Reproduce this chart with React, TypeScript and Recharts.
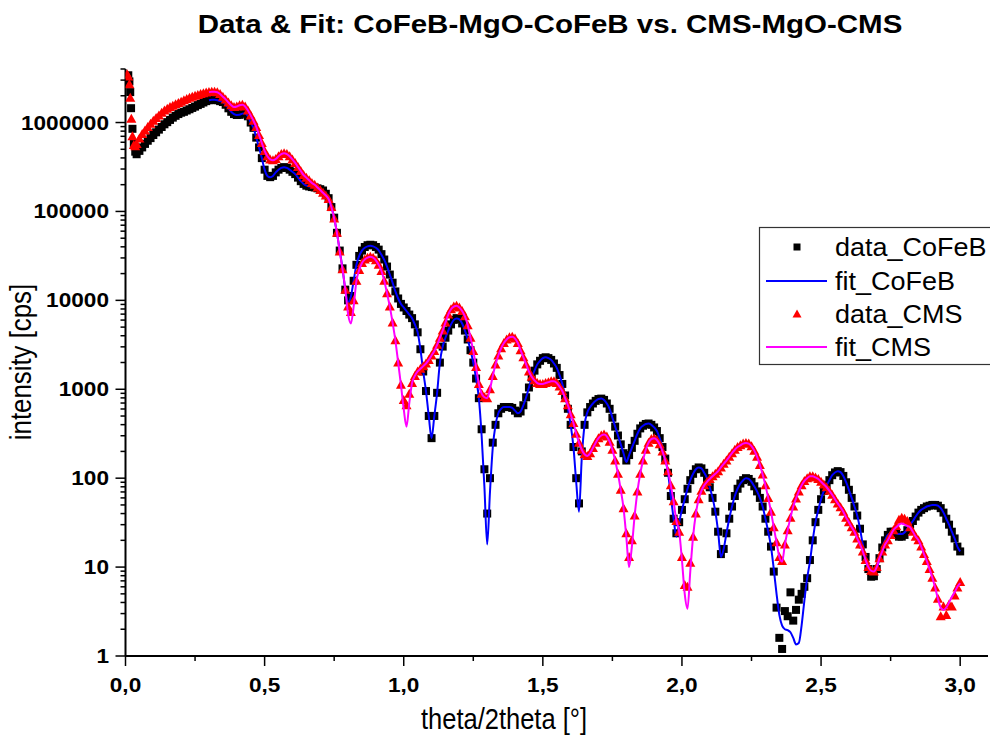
import React from 'react';
import { ComposedChart, XAxis, YAxis, Scatter, Line, Legend } from 'recharts';

const FONT = '"Liberation Sans", Arial, Helvetica, sans-serif';

// ---------- data (theta in degrees, intensity in cps) ----------
const gridStart = 0.04;
const gridStep = 0.01;
const fitStart = 0.3;

const cofebHeadTheta = [0.01, 0.014, 0.017, 0.02, 0.025, 0.03, 0.035];
const cofebHeadData = [3400000, 2900000, 2200000, 1450000, 850000, 580000, 470000];
const cmsHeadTheta = [0.006, 0.01, 0.014, 0.017, 0.021, 0.025, 0.03, 0.035];
const cmsHeadData = [3500000, 3300000, 2700000, 1900000, 1100000, 700000, 560000, 540000];

// measured points on the 0.04 ... 3.00 grid
const cofebData = [
  440000, 480000, 525000, 575000, 624000, 668000, 724000, 776000, 832000, 891000,
  955000, 1010000, 1070000, 1135000, 1190000, 1245000, 1290000, 1320000, 1365000, 1410000,
  1460000, 1510000, 1570000, 1620000, 1680000, 1740000, 1780000, 1800000, 1800000, 1780000,
  1740000, 1700000, 1585000, 1445000, 1320000, 1245000, 1215000, 1220000, 1260000, 1270000,
  1175000, 1000000, 871000, 676000, 525000, 398000, 295000, 251000, 243000, 251000,
  275000, 295000, 309000, 315000, 309000, 295000, 279000, 263000, 240000, 219000,
  204000, 195000, 191000, 188000, 186000, 182000, 178000, 172000, 158000, 141000,
  112000, 85100, 57500, 36300, 22900, 13200, 10000, 11200, 16600, 25100,
  31600, 36300, 39800, 41700, 42200, 41700, 39800, 37200, 33100, 28800,
  24000, 19500, 15800, 12600, 10500, 9120, 8320, 7590, 6920, 6310,
  5370, 4370, 2820, 1585, 955, 501, 282, 501, 912, 1995,
  3020, 3800, 4570, 5370, 6030, 6310, 6170, 5500, 4570, 3630,
  2750, 1995, 1320, 794, 355, 126, 40, 100, 251, 398,
  537, 603, 631, 631, 631, 617, 575, 537, 562, 661,
  813, 1047, 1350, 1620, 1905, 2090, 2240, 2290, 2240, 2140,
  1950, 1740, 1445, 1148, 851, 603, 398, 224, 100, 52,
  200, 398, 550, 631, 692, 741, 776, 785, 759, 692,
  603, 479, 380, 302, 240, 191, 158, 182, 219, 263,
  316, 363, 389, 407, 412, 398, 372, 339, 282, 224,
  166, 115, 63, 35, 24, 32, 44, 58, 76, 95,
  112, 126, 132, 129, 115, 100, 79, 60, 42, 25,
  14, 16, 24, 35, 48, 63, 76, 87, 95, 100,
  98, 91, 81, 71, 60, 48, 35, 25, 17, 8.9,
  3.5, 1.6, 1.2, 3.2, 2.8, 5.2, 2.5, 3.3, 4.3, 5.0,
  6.0, 7.5, 12, 20, 32, 44, 58, 72, 83, 95,
  108, 116, 120, 117, 106, 90, 74, 60, 48, 38,
  27, 18, 13, 9.5, 7.8, 7.9, 9.5, 12.6, 16.6, 20,
  23, 25, 25, 24, 22, 22, 23, 26, 30, 33,
  37, 41, 44, 46, 48, 49, 50, 50, 49, 46,
  41, 35, 30, 25, 21, 17, 15,
];

const cmsData = [
  575000, 661000, 741000, 813000, 891000, 966000, 1047000, 1122000, 1202000, 1288000,
  1365000, 1430000, 1496000, 1549000, 1603000, 1660000, 1718000, 1778000, 1841000, 1905000,
  1950000, 1995000, 2042000, 2089000, 2138000, 2173000, 2198000, 2213000, 2213000, 2188000,
  2089000, 1950000, 1820000, 1679000, 1567000, 1496000, 1514000, 1567000, 1585000, 1514000,
  1365000, 1202000, 1047000, 891000, 724000, 589000, 479000, 417000, 385000, 376000,
  389000, 417000, 442000, 452000, 442000, 417000, 385000, 351000, 316000, 285000,
  257000, 240000, 224000, 209000, 200000, 186000, 174000, 162000, 151000, 138000,
  112000, 83200, 57500, 35500, 22400, 13200, 8510, 7410, 10000, 16600,
  21900, 26300, 28800, 30200, 30900, 30200, 28200, 25100, 21400, 16600,
  12000, 8510, 5620, 3550, 1995, 1122, 759, 661, 891, 1175,
  1413, 1585, 1698, 1820, 1950, 2138, 2399, 2692, 3162, 3802,
  4571, 5623, 6918, 7943, 8511, 8710, 8318, 7586, 6607, 5248,
  3802, 2692, 1778, 1148, 891, 813, 794, 1000, 1413, 1905,
  2399, 2884, 3311, 3631, 3846, 3890, 3715, 3311, 2754, 2291,
  1905, 1585, 1380, 1259, 1175, 1148, 1148, 1175, 1202, 1230,
  1230, 1175, 1072, 955, 794, 661, 525, 417, 316, 251,
  209, 186, 178, 191, 219, 251, 282, 302, 309, 295,
  257, 209, 158, 112, 74, 46, 24, 13, 20, 38,
  71, 112, 158, 209, 251, 275, 282, 269, 240, 200,
  158, 120, 83, 55, 33, 25, 13, 6.3, 6.0, 11.2,
  22, 40, 58, 72, 83, 91, 98, 105, 112, 120,
  132, 145, 158, 174, 191, 209, 224, 234, 245, 248,
  245, 229, 204, 174, 141, 110, 83, 60, 42, 28,
  19, 13, 11.7, 18, 26, 36, 48, 59, 71, 83,
  93, 100, 105, 105, 102, 98, 91, 85, 79, 72,
  65, 58, 52, 47, 42, 36, 32, 28, 25, 21,
  18, 15, 12, 10, 9.1, 8.9, 10, 12.6, 15, 18,
  20, 23, 26, 29, 34, 36, 35, 33, 28, 25,
  22, 20, 17, 14, 11.7, 9.5, 7.6, 5.9, 4.4, 2.8,
  3.6, 2.9, 3.8, 3.6, 4.8, 5.9, 6.8,
];

// fitted curves on the 0.30 ... 3.00 grid
const cofebFit = [
  1780000, 1800000, 1800000, 1780000, 1740000, 1700000, 1585000, 1445000, 1320000, 1245000,
  1215000, 1220000, 1260000, 1270000, 1175000, 1000000, 871000, 676000, 525000, 398000,
  295000, 251000, 243000, 251000, 275000, 295000, 309000, 315000, 309000, 295000,
  279000, 263000, 240000, 219000, 204000, 195000, 191000, 188000, 186000, 182000,
  178000, 172000, 158000, 141000, 112000, 85100, 57500, 36300, 22900, 13200,
  9500, 11000, 16600, 25100, 31600, 36300, 39000, 40500, 41000, 40500,
  39000, 36500, 32500, 28500, 24000, 19500, 15800, 12600, 10500, 9120,
  8320, 7590, 6920, 6310, 5370, 4370, 2820, 1585, 955, 501,
  282, 501, 912, 1995, 3020, 3800, 4570, 5370, 6030, 6250,
  6100, 5500, 4570, 3630, 2750, 1995, 1320, 794, 300, 80,
  18, 70, 220, 398, 537, 603, 631, 631, 631, 617,
  575, 537, 562, 661, 813, 1047, 1350, 1620, 1905, 2090,
  2240, 2290, 2240, 2140, 1950, 1740, 1445, 1148, 851, 603,
  398, 224, 90, 42, 170, 398, 550, 631, 692, 741,
  776, 785, 759, 692, 603, 479, 380, 302, 240, 191,
  152, 182, 219, 263, 316, 363, 389, 407, 412, 398,
  372, 339, 282, 224, 166, 115, 63, 35, 22, 32,
  44, 58, 76, 95, 112, 126, 132, 129, 115, 100,
  79, 60, 42, 25, 13, 16, 24, 35, 48, 63,
  76, 87, 95, 100, 98, 91, 81, 71, 60, 48,
  35, 25, 17, 9.5, 5.0, 2.9, 2.2, 2.0, 1.95, 1.85,
  1.6, 1.35, 1.4, 2.2, 4.2, 7.5, 11.5, 20, 32, 44,
  58, 72, 83, 95, 108, 116, 120, 117, 106, 90,
  74, 60, 48, 38, 27, 18, 13, 9.0, 8.6, 8.8,
  9.5, 12.6, 16.6, 20, 23, 24, 24.5, 24, 23.5, 23.5,
  24.5, 27, 30, 33, 37, 41, 44, 46, 48, 49,
  50, 50, 49, 46, 41, 35, 30, 25, 21, 17,
  15,
];

const cmsFit = [
  2198000, 2213000, 2213000, 2188000, 2089000, 1950000, 1820000, 1679000, 1567000, 1496000,
  1514000, 1567000, 1585000, 1514000, 1365000, 1202000, 1047000, 891000, 724000, 589000,
  479000, 417000, 385000, 376000, 389000, 417000, 442000, 452000, 442000, 417000,
  385000, 351000, 316000, 285000, 257000, 240000, 224000, 209000, 200000, 186000,
  174000, 162000, 151000, 138000, 112000, 83200, 57500, 35500, 22400, 13200,
  7000, 5500, 8500, 16600, 21900, 26300, 28800, 30200, 30900, 30200,
  28200, 25100, 21400, 16600, 12000, 8510, 5620, 3550, 1995, 1122,
  600, 380, 700, 1175, 1413, 1585, 1698, 1820, 1950, 2138,
  2399, 2692, 3162, 3802, 4571, 5623, 6918, 7943, 8511, 8710,
  8318, 7586, 6607, 5248, 3802, 2692, 1778, 1148, 891, 813,
  794, 1000, 1413, 1905, 2399, 2884, 3311, 3631, 3846, 3890,
  3715, 3311, 2754, 2291, 1905, 1585, 1380, 1259, 1175, 1148,
  1148, 1175, 1202, 1230, 1230, 1175, 1072, 955, 794, 661,
  525, 417, 316, 251, 209, 186, 178, 191, 219, 251,
  282, 302, 309, 295, 257, 209, 158, 112, 74, 46,
  22, 10, 17, 38, 71, 112, 158, 209, 251, 275,
  282, 269, 240, 200, 158, 120, 83, 55, 33, 25,
  12, 5.0, 3.4, 9, 22, 40, 58, 72, 83, 91,
  98, 105, 112, 120, 132, 145, 158, 174, 191, 209,
  224, 234, 245, 248, 245, 229, 204, 174, 141, 110,
  83, 60, 42, 28, 19, 13, 11.5, 18, 26, 36,
  48, 59, 71, 83, 93, 100, 105, 105, 102, 98,
  91, 85, 79, 72, 65, 58, 52, 47, 42, 36,
  32, 28, 25, 21, 18, 15, 12, 10, 9.1, 8.9,
  10, 12.6, 15, 18, 20, 23, 26, 28, 30, 31,
  30, 29, 28, 25, 22, 20, 17, 14, 11.7, 9.5,
  7.6, 5.9, 4.4, 3.5, 3.3, 3.5, 4.0, 4.6, 5.2, 6.0,
  6.6,
];

// ---------- axes ----------
const xMajorTicks = [0, 0.5, 1, 1.5, 2, 2.5, 3];
const xMinorTicks = [0.25, 0.75, 1.25, 1.75, 2.25, 2.75];
const yMajorTicks = [1, 10, 100, 1000, 10000, 100000, 1000000];
const yMinorFactors = [2, 3, 4, 5, 6, 7, 8, 9];
const yMax = 4000000;

const xTicks = [...xMajorTicks, ...xMinorTicks].sort((a, b) => a - b);
const yTicks: number[] = [];
yMajorTicks.forEach((m) => {
  yTicks.push(m);
  yMinorFactors.forEach((f) => {
    if (m * f <= yMax) yTicks.push(m * f);
  });
});

const legendItems = [
  { label: 'data_CoFeB', kind: 'square', color: '#000000' },
  { label: 'fit_CoFeB', kind: 'line', color: '#0000FF' },
  { label: 'data_CMS', kind: 'triangle', color: '#FF0000' },
  { label: 'fit_CMS', kind: 'line', color: '#FF00FF' },
];

// ---------- build series ----------
const gridTheta = (i: number, start: number) => Math.round((start + i * gridStep) * 1000) / 1000;

const cofebPoints = [
  ...cofebHeadTheta.map((x, i) => ({ x, y: cofebHeadData[i] })),
  ...cofebData.map((y, i) => ({ x: gridTheta(i, gridStart), y })),
];
const cmsPoints = [
  ...cmsHeadTheta.map((x, i) => ({ x, y: cmsHeadData[i] })),
  ...cmsData.map((y, i) => ({ x: gridTheta(i, gridStart), y })),
];
const cofebFitPoints = cofebFit.map((y, i) => ({ x: gridTheta(i, fitStart), y }));
const cmsFitPoints = cmsFit.map((y, i) => ({ x: gridTheta(i, fitStart), y }));

// ---------- renderers ----------
const isMajorY = (v: number) => yMajorTicks.includes(v);
const isMajorX = (v: number) => xMajorTicks.some((m) => Math.abs(m - v) < 1e-9);

const YTick = (props: any) => {
  const { x, y, payload } = props;
  const v = payload.value;
  const major = isMajorY(v);
  return (
    <g>
      <line x1={x - (major ? 10 : 5)} x2={x} y1={y} y2={y} stroke="#000" strokeWidth={1.5} />
      {major && (
        <text
          transform={`translate(${x - 16.5},${y}) scale(1.16,1)`}
          textAnchor="end"
          dy="0.36em"
          fontFamily={FONT}
          fontWeight="bold"
          fontSize={19.5}
          fill="#000"
        >
          {String(v)}
        </text>
      )}
    </g>
  );
};

const XTick = (props: any) => {
  const { x, y, payload } = props;
  const v = payload.value;
  const major = isMajorX(v);
  return (
    <g>
      <line x1={x} x2={x} y1={y} y2={y + (major ? 10 : 5)} stroke="#000" strokeWidth={1.5} />
      {major && (
        <text
          transform={`translate(${x},${y + 35.5}) scale(1.16,1)`}
          textAnchor="middle"
          fontFamily={FONT}
          fontWeight="bold"
          fontSize={19.5}
          fill="#000"
        >
          {v.toFixed(1).replace('.', ',')}
        </text>
      )}
    </g>
  );
};

const XTitle = () => (
  <text
    transform="translate(504,729) scale(0.88,1)"
    textAnchor="middle"
    fontFamily={FONT}
    fontSize={29}
    fill="#000"
  >
    theta/2theta [°]
  </text>
);

const YTitle = () => (
  <text
    transform="translate(31,362) rotate(-90) scale(0.89,1)"
    textAnchor="middle"
    fontFamily={FONT}
    fontSize={29}
    fill="#000"
  >
    intensity [cps]
  </text>
);

const SquareShape = (p: any) =>
  p.cx == null ? <g /> : <rect x={p.cx - 4} y={p.cy - 4} width={8} height={8} fill="#000000" />;
const TriangleShape = (p: any) =>
  p.cx == null ? (
    <g />
  ) : (
    <path d={`M${p.cx},${p.cy - 5}L${p.cx + 5},${p.cy + 4}L${p.cx - 5},${p.cy + 4}Z`} fill="#FF0000" />
  );

const LegendBox = () => {
  const rows = [20, 54, 87, 120];
  return (
    <svg width={231} height={140} style={{ display: 'block', overflow: 'visible' }}>
      <rect x={0.5} y={0.5} width={260} height={137} fill="#fff" stroke="#333" strokeWidth={1.2} />
      {legendItems.map((it, i) => {
        const cy = rows[i];
        let icon: React.ReactNode = null;
        if (it.kind === 'line') icon = <line x1={7} x2={68} y1={cy} y2={cy} stroke={it.color} strokeWidth={2} />;
        else if (it.kind === 'square') icon = <rect x={34.5} y={cy - 3.5} width={7} height={7} fill={it.color} />;
        else icon = <path d={`M38,${cy - 4.5}L42.5,${cy + 3.5}L33.5,${cy + 3.5}Z`} fill={it.color} />;
        return (
          <g key={it.label}>
            {icon}
            <text
              transform={`translate(76,${cy + 9}) scale(1.08,1)`}
              fontFamily={FONT}
              fontSize={25}
              fill="#000"
            >
              {it.label}
            </text>
          </g>
        );
      })}
    </svg>
  );
};

export default function App() {
  return (
    <div
      style={{
        position: 'fixed',
        left: 0,
        top: 0,
        width: 990,
        height: 737,
        overflow: 'hidden',
        background: '#fff',
      }}
    >
      <div
        style={{
          position: 'absolute',
          left: 549.5,
          top: 12,
          transform: 'translateX(-50%) scaleX(1.18)',
          whiteSpace: 'nowrap',
          fontFamily: FONT,
          fontWeight: 'bold',
          fontSize: 25,
          lineHeight: '25px',
          color: '#000',
        }}
      >
        Data &amp; Fit: CoFeB-MgO-CoFeB vs. CMS-MgO-CMS
      </div>
      <ComposedChart width={990} height={737} margin={{ top: 69, right: 2, bottom: 41, left: 15.5 }}>
        <XAxis
          type="number"
          dataKey="x"
          domain={[0, 3.1]}
          ticks={xTicks}
          interval={0}
          allowDataOverflow
          height={40}
          tickSize={0}
          tickMargin={0}
          tickLine={false}
          axisLine={{ stroke: '#000', strokeWidth: 2 }}
          tick={<XTick />}
          label={<XTitle />}
        />
        <YAxis
          type="number"
          dataKey="y"
          scale="log"
          domain={[1, yMax]}
          ticks={yTicks}
          interval={0}
          allowDataOverflow
          width={110}
          tickSize={0}
          tickMargin={0}
          tickLine={false}
          axisLine={{ stroke: '#000', strokeWidth: 2 }}
          tick={<YTick />}
          label={<YTitle />}
        />
        <Scatter
          name="data_CoFeB"
          data={cofebPoints}
          dataKey="y"
          shape={SquareShape}
          isAnimationActive={false}
          zIndex={601}
        />
        <Line
          name="fit_CoFeB"
          data={cofebFitPoints}
          dataKey="y"
          type="monotone"
          stroke="#0000FF"
          strokeWidth={2}
          dot={false}
          activeDot={false}
          isAnimationActive={false}
          zIndex={602}
        />
        <Scatter
          name="data_CMS"
          data={cmsPoints}
          dataKey="y"
          shape={TriangleShape}
          isAnimationActive={false}
          zIndex={603}
        />
        <Line
          name="fit_CMS"
          data={cmsFitPoints}
          dataKey="y"
          type="monotone"
          stroke="#FF00FF"
          strokeWidth={2}
          dot={false}
          activeDot={false}
          isAnimationActive={false}
          zIndex={604}
        />
        <Legend
          layout="vertical"
          align="center"
          verticalAlign="middle"
          content={<LegendBox />}
          wrapperStyle={{ position: 'absolute', left: 759, top: 227, width: 231, height: 140, right: 'auto', bottom: 'auto' }}
        />
      </ComposedChart>
    </div>
  );
}
